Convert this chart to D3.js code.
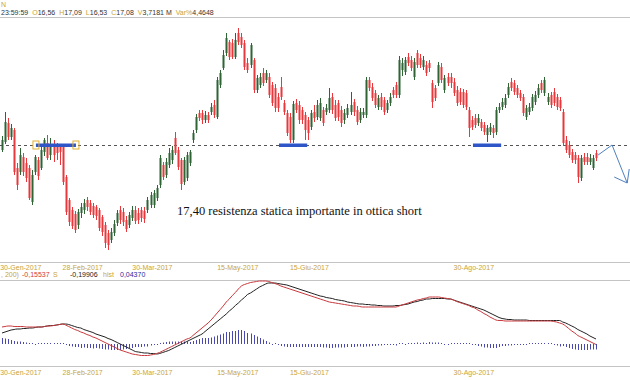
<!DOCTYPE html>
<html>
<head>
<meta charset="utf-8">
<script src="https://cdn.jsdelivr.net/npm/d3@7"></script>
<style>
  body { margin: 0; background: #fff; }
  svg { display: block; font-family: 'Liberation Sans', Arial, sans-serif; }
</style>
</head>
<body>
<svg id="chart" width="630" height="380"></svg>
<script>
// daily candles
const opens = [
  17.20, 17.52, 18.28, 17.72, 18.00, 16.48, 16.32, 16.92, 16.68, 16.48,
  15.12, 16.32, 16.80, 16.48, 17.12, 17.48, 17.00, 17.40, 17.32, 17.36,
  17.32, 16.12, 15.20, 14.80, 14.64, 14.20, 14.68, 14.80, 15.20, 15.08,
  14.96, 14.92, 14.80, 14.52, 14.20, 13.88, 13.60, 13.88, 14.28, 14.80,
  14.72, 14.40, 14.20, 14.48, 14.80, 14.68, 14.80, 14.76, 14.80, 15.00,
  15.00, 15.28, 15.80, 16.60, 16.20, 16.60, 16.80, 17.68, 17.20, 16.80,
  15.92, 16.08, 16.68, 17.60, 18.00, 18.68, 18.68, 18.40, 18.60, 18.72,
  19.00, 18.52, 19.80, 20.48, 21.08, 21.52, 21.48, 20.92, 21.88, 21.72,
  21.48, 20.68, 20.60, 20.80, 19.60, 19.80, 20.28, 20.00, 20.12, 19.80,
  19.68, 19.32, 19.72, 19.08, 18.68, 18.52, 17.60, 19.08, 19.00, 18.80,
  18.60, 18.40, 18.12, 18.72, 18.52, 18.48, 18.80, 18.72, 18.80, 19.32,
  19.00, 19.08, 18.80, 18.40, 18.60, 18.72, 19.12, 18.80, 18.40, 18.60,
  18.60, 20.00, 19.72, 19.48, 18.92, 19.32, 19.20, 18.80, 19.08, 19.60,
  19.80, 19.40, 20.40, 20.32, 20.92, 20.80, 20.12, 21.08, 20.88, 20.52,
  20.60, 20.68, 19.88, 19.68, 19.88, 20.52, 19.60, 20.12, 20.12, 19.92,
  19.60, 19.52, 19.52, 19.48, 18.80, 18.40, 18.48, 18.28, 18.32, 18.20,
  17.80, 17.92, 18.08, 17.92, 18.80, 18.92, 19.00, 19.40, 19.92, 19.88,
  19.68, 19.48, 19.32, 18.52, 18.72, 18.88, 19.12, 19.40, 19.88, 19.48,
  19.12, 19.40, 19.52, 19.32, 19.20, 18.72, 17.60, 17.40, 17.12, 17.00,
  16.88, 16.08, 16.92, 16.92, 16.72, 16.48, 17.08
];
const highs = [
  17.76, 18.72, 18.48, 18.24, 18.08, 16.68, 17.28, 17.08, 16.88, 16.60,
  16.40, 17.00, 16.92, 17.36, 17.68, 17.80, 17.68, 17.60, 17.48, 17.44,
  17.40, 16.20, 15.28, 14.92, 14.76, 14.84, 15.08, 15.24, 15.32, 15.20,
  15.08, 15.00, 14.88, 14.60, 14.32, 14.00, 14.08, 14.40, 14.80, 14.96,
  14.88, 14.56, 14.72, 14.96, 14.96, 14.88, 14.92, 14.92, 15.32, 15.52,
  15.60, 15.80, 17.00, 16.72, 16.88, 17.28, 17.36, 17.92, 17.32, 16.88,
  16.92, 17.12, 17.20, 18.00, 18.64, 18.80, 18.80, 18.76, 18.72, 19.08,
  19.20, 20.12, 20.40, 21.20, 21.88, 21.60, 21.64, 21.88, 22.08, 21.88,
  21.60, 20.88, 21.48, 20.88, 20.20, 20.28, 20.48, 20.40, 20.28, 19.92,
  19.84, 19.48, 20.12, 19.20, 18.80, 18.68, 19.16, 19.24, 19.16, 18.92,
  18.72, 18.52, 18.80, 19.00, 19.20, 19.28, 18.92, 19.04, 19.68, 19.48,
  19.20, 19.20, 18.96, 18.84, 19.04, 19.52, 19.24, 18.96, 18.88, 18.88,
  20.12, 20.12, 19.88, 19.60, 19.40, 19.48, 19.32, 19.20, 19.48, 19.72,
  19.92, 20.96, 20.88, 20.92, 21.08, 20.96, 20.88, 21.20, 21.04, 20.96,
  20.76, 20.80, 20.00, 19.80, 20.72, 20.68, 20.20, 20.28, 20.28, 20.08,
  19.76, 19.68, 19.64, 19.60, 18.92, 18.56, 18.64, 18.64, 18.44, 18.32,
  18.20, 18.28, 18.20, 18.92, 19.08, 19.28, 19.44, 19.88, 20.08, 20.00,
  19.80, 19.60, 19.44, 19.00, 19.08, 19.44, 19.56, 19.84, 20.00, 20.12,
  19.48, 19.52, 19.68, 19.44, 19.32, 18.84, 17.76, 17.56, 17.24, 17.12,
  17.00, 17.00, 17.08, 17.08, 17.04, 17.00, 17.20
];
const lows = [
  17.12, 17.44, 17.60, 17.60, 16.20, 15.60, 16.20, 16.16, 15.92, 15.20,
  15.00, 16.20, 16.00, 16.40, 16.96, 16.80, 16.80, 16.72, 16.80, 16.60,
  15.80, 14.60, 14.16, 14.04, 13.88, 14.04, 14.48, 14.64, 14.76, 14.60,
  14.48, 14.40, 13.96, 13.76, 13.28, 13.20, 13.48, 13.76, 14.16, 14.24,
  14.16, 13.92, 14.08, 14.36, 14.24, 14.24, 14.32, 14.28, 14.68, 14.88,
  14.88, 15.16, 15.68, 16.00, 16.08, 16.48, 16.64, 17.00, 16.40, 15.60,
  15.80, 15.96, 16.56, 17.48, 17.88, 18.36, 18.24, 18.28, 18.28, 18.60,
  18.48, 18.44, 19.68, 20.40, 20.96, 20.80, 20.84, 20.84, 21.40, 21.28,
  20.40, 20.28, 20.48, 19.48, 19.48, 19.68, 19.76, 19.88, 19.28, 18.96,
  18.72, 18.72, 19.20, 18.60, 17.76, 17.48, 17.48, 18.68, 18.24, 18.24,
  17.60, 17.60, 18.00, 18.32, 18.40, 18.36, 18.16, 18.60, 18.68, 18.64,
  18.36, 18.36, 18.12, 18.24, 18.48, 18.60, 18.56, 18.20, 18.28, 18.48,
  18.48, 19.56, 19.16, 18.88, 18.80, 18.80, 18.60, 18.68, 18.96, 19.28,
  19.28, 19.28, 20.16, 20.20, 20.56, 20.36, 20.00, 20.48, 20.48, 20.40,
  20.16, 20.32, 18.88, 19.16, 19.76, 19.88, 19.48, 19.76, 19.68, 19.36,
  18.96, 19.00, 18.88, 18.80, 17.72, 18.00, 18.08, 18.16, 17.96, 17.80,
  17.52, 17.80, 17.68, 17.80, 18.68, 18.80, 18.88, 19.28, 19.56, 19.40,
  19.28, 19.16, 18.56, 18.40, 18.60, 18.76, 19.00, 19.28, 19.48, 19.36,
  19.00, 18.88, 18.96, 18.80, 18.76, 17.36, 17.08, 16.88, 16.68, 16.64,
  15.88, 15.96, 16.60, 16.60, 16.60, 16.40, 16.76
];
const closes = [
  17.60, 18.32, 17.72, 18.08, 16.32, 15.80, 17.00, 16.32, 16.08, 15.28,
  16.20, 16.92, 16.16, 17.20, 17.60, 16.88, 17.40, 17.00, 17.08, 17.12,
  15.92, 14.72, 14.32, 14.16, 14.00, 14.72, 14.92, 15.08, 14.92, 14.72,
  14.60, 14.56, 14.08, 13.92, 13.48, 13.40, 13.92, 14.24, 14.68, 14.40,
  14.32, 14.04, 14.60, 14.80, 14.36, 14.40, 14.48, 14.44, 15.20, 15.40,
  15.48, 15.68, 16.88, 16.12, 16.72, 17.08, 17.20, 17.08, 16.52, 15.84,
  16.80, 17.00, 17.12, 17.88, 18.52, 18.48, 18.40, 18.60, 18.40, 18.92,
  18.60, 20.00, 20.28, 21.00, 21.68, 20.92, 20.92, 21.60, 21.52, 21.40,
  20.52, 20.40, 21.40, 19.60, 20.08, 20.12, 19.88, 20.28, 19.40, 19.08,
  18.88, 18.88, 19.32, 18.72, 17.88, 17.60, 19.04, 18.80, 18.40, 18.40,
  18.00, 17.88, 18.68, 18.48, 19.00, 19.08, 18.28, 18.88, 19.28, 18.80,
  18.48, 18.52, 18.28, 18.68, 18.88, 19.00, 18.72, 18.32, 18.72, 18.72,
  20.00, 19.68, 19.28, 19.00, 19.28, 18.92, 18.72, 19.08, 19.32, 19.40,
  19.40, 20.80, 20.68, 20.80, 20.68, 20.48, 20.72, 20.60, 20.60, 20.80,
  20.28, 20.48, 19.12, 19.28, 20.60, 20.00, 20.08, 19.88, 19.88, 19.48,
  19.08, 19.12, 19.00, 18.92, 18.08, 18.12, 18.20, 18.48, 18.08, 17.92,
  18.08, 18.12, 17.88, 18.80, 18.92, 19.12, 19.28, 19.72, 19.68, 19.52,
  19.40, 19.28, 18.68, 18.88, 18.92, 19.32, 19.40, 19.68, 19.60, 20.00,
  19.32, 19.00, 19.08, 18.92, 18.88, 17.48, 17.20, 17.00, 16.80, 16.80,
  16.12, 16.88, 16.72, 16.72, 16.88, 16.88, 16.88
];

// MACD (red) and signal (black), one value per candle
const macdLine = [
  0.12, 0.13, 0.14, 0.14, 0.13, 0.13, 0.13, 0.13, 0.12, 0.12,
  0.12, 0.12, 0.12, 0.12, 0.13, 0.14, 0.14, 0.15, 0.16, 0.17,
  0.18, 0.16, 0.13, 0.10, 0.07, 0.05, 0.02, 0.00, -0.03, -0.05,
  -0.08, -0.10, -0.13, -0.16, -0.19, -0.22, -0.25, -0.28, -0.31, -0.34,
  -0.36, -0.38, -0.40, -0.42, -0.43, -0.44, -0.45, -0.45, -0.45, -0.44,
  -0.43, -0.41, -0.39, -0.36, -0.33, -0.30, -0.27, -0.24, -0.21, -0.18,
  -0.15, -0.12, -0.10, -0.05, 0.00, 0.05, 0.10, 0.15, 0.20, 0.26,
  0.33, 0.40, 0.47, 0.54, 0.62, 0.68, 0.75, 0.81, 0.88, 0.94,
  0.97, 0.99, 1.01, 1.02, 1.03, 1.04, 1.04, 1.04, 1.03, 1.01,
  0.99, 0.97, 0.94, 0.92, 0.90, 0.88, 0.86, 0.84, 0.82, 0.80,
  0.78, 0.76, 0.74, 0.72, 0.70, 0.68, 0.66, 0.64, 0.62, 0.61,
  0.60, 0.59, 0.58, 0.57, 0.56, 0.55, 0.54, 0.54, 0.53, 0.52,
  0.52, 0.52, 0.52, 0.52, 0.52, 0.52, 0.52, 0.52, 0.52, 0.52,
  0.52, 0.54, 0.56, 0.58, 0.60, 0.62, 0.64, 0.66, 0.67, 0.69,
  0.70, 0.72, 0.72, 0.72, 0.72, 0.71, 0.70, 0.69, 0.68, 0.66,
  0.63, 0.61, 0.59, 0.57, 0.55, 0.52, 0.50, 0.46, 0.43, 0.39,
  0.36, 0.32, 0.29, 0.26, 0.25, 0.25, 0.24, 0.24, 0.24, 0.24,
  0.24, 0.24, 0.24, 0.24, 0.24, 0.24, 0.24, 0.24, 0.24, 0.24,
  0.24, 0.24, 0.23, 0.22, 0.20, 0.18, 0.14, 0.09, 0.04, 0.00,
  -0.05, -0.08, -0.11, -0.14, -0.17, -0.20, -0.23
];
const signalLine = [
  0.00, 0.02, 0.04, 0.06, 0.07, 0.08, 0.08, 0.09, 0.09, 0.10,
  0.10, 0.11, 0.12, 0.12, 0.13, 0.14, 0.15, 0.15, 0.16, 0.17,
  0.18, 0.18, 0.17, 0.15, 0.13, 0.11, 0.10, 0.07, 0.05, 0.03,
  0.01, -0.02, -0.04, -0.06, -0.08, -0.11, -0.13, -0.16, -0.19, -0.22,
  -0.25, -0.28, -0.31, -0.34, -0.37, -0.38, -0.39, -0.40, -0.40, -0.41,
  -0.41, -0.42, -0.41, -0.39, -0.37, -0.35, -0.32, -0.29, -0.26, -0.23,
  -0.20, -0.17, -0.14, -0.11, -0.08, -0.05, -0.02, 0.03, 0.08, 0.13,
  0.18, 0.23, 0.28, 0.33, 0.38, 0.44, 0.49, 0.55, 0.60, 0.66,
  0.71, 0.77, 0.80, 0.84, 0.88, 0.92, 0.95, 0.98, 1.00, 1.00,
  1.00, 0.99, 0.98, 0.97, 0.96, 0.94, 0.92, 0.90, 0.88, 0.86,
  0.84, 0.82, 0.80, 0.78, 0.76, 0.74, 0.73, 0.71, 0.70, 0.69,
  0.67, 0.66, 0.65, 0.64, 0.62, 0.61, 0.60, 0.59, 0.58, 0.58,
  0.57, 0.57, 0.56, 0.56, 0.55, 0.55, 0.54, 0.54, 0.54, 0.54,
  0.55, 0.55, 0.56, 0.57, 0.58, 0.60, 0.62, 0.63, 0.65, 0.66,
  0.68, 0.68, 0.69, 0.69, 0.69, 0.69, 0.69, 0.68, 0.68, 0.66,
  0.64, 0.62, 0.60, 0.58, 0.56, 0.54, 0.52, 0.50, 0.48, 0.46,
  0.43, 0.40, 0.37, 0.34, 0.31, 0.29, 0.28, 0.27, 0.27, 0.26,
  0.26, 0.26, 0.26, 0.26, 0.25, 0.25, 0.25, 0.25, 0.25, 0.25,
  0.25, 0.25, 0.25, 0.25, 0.25, 0.22, 0.20, 0.17, 0.14, 0.11,
  0.07, 0.04, 0.01, -0.02, -0.06, -0.09, -0.12
];

const tickIndex = [-0.6, 20, 43, 71, 95, 149];
const tickLabels = ['30-Gen-2017', '28-Feb-2017', '30-Mar-2017', '15-May-2017', '15-Giu-2017', '30-Ago-2017'];

const headLabels = ['', 'O', 'H', 'L', 'C', 'V', 'Var%'];
const headValues = ['23:59:59', '16,56', '17,09', '16,53', '17,08', '3,7181 M', '4,4648'];
const macdLegendLabels = ['', 'S', 'hist'];
const macdLegendValues = ['-0,15537', '-0,19906', '0,04370'];

const resistance = 17.40;
const supportFrom = [11.2, 91.4, 155.4];
const supportTo = [24.4, 100.7, 164.7];
const arrowIdx = [196.7, 201.3, 206.3];
const arrowPrice = [17.0, 17.4, 15.88];
const note = '17,40 resistenza statica importante in ottica short';

const UP = '#2f6534', DOWN = '#e8383c', GOLD = '#c9a43a', GRID = '#c4c4c4';

const svg = d3.select('#chart');
const x = d3.scaleLinear().domain([0, opens.length - 1]).range([2, 596]);
const y = d3.scaleLinear().domain([13, 22.4]).range([255, 20]);
const yMacd = d3.scaleLinear().domain([-0.5, 1.1]).range([358, 278]);
const yHist = d3.scaleLinear().domain([-0.3, 0.3]).range([359, 329]);

// separators
[17, 262, 280, 366].forEach(v => {
  svg.append('line').attr('x1', 0).attr('x2', 630).attr('y1', v + 0.5).attr('y2', v + 0.5)
    .attr('stroke', GRID).attr('stroke-width', 1);
});

// header
svg.append('text').attr('x', 1).attr('y', 7).attr('font-size', 7).attr('fill', GOLD).text('N');
const head = svg.append('text').attr('x', 1).attr('y', 15).attr('font-size', 7);
headLabels.forEach((l, i) => {
  head.append('tspan').attr('dx', i ? 4 : 0).attr('fill', GOLD).text(l);
  head.append('tspan').attr('fill', '#333').text(headValues[i]);
});

// resistance line
svg.append('line')
  .attr('x1', 0).attr('x2', 630)
  .attr('y1', Math.round(y(resistance)) + 0.5).attr('y2', Math.round(y(resistance)) + 0.5)
  .attr('stroke', '#555').attr('stroke-dasharray', '3,3');

// candles
const idx = d3.range(opens.length);
const cg = svg.append('g');
cg.selectAll('line.wick').data(idx).join('line')
  .attr('class', 'wick')
  .attr('x1', i => Math.round(x(i)) + 0.5).attr('x2', i => Math.round(x(i)) + 0.5)
  .attr('y1', i => y(highs[i])).attr('y2', i => y(lows[i]))
  .attr('stroke', i => closes[i] >= opens[i] ? UP : DOWN);
cg.selectAll('rect.body').data(idx).join('rect')
  .attr('class', 'body')
  .attr('x', i => Math.round(x(i)) - 0.5).attr('width', 2)
  .attr('y', i => y(Math.max(opens[i], closes[i])))
  .attr('height', i => Math.max(1, Math.abs(y(opens[i]) - y(closes[i]))))
  .attr('fill', i => closes[i] >= opens[i] ? UP : DOWN);

// support markers
supportFrom.forEach((f, k) => {
  svg.append('rect')
    .attr('x', x(f)).attr('width', x(supportTo[k]) - x(f))
    .attr('y', y(resistance) - 1.5).attr('height', 3.5)
    .attr('fill', '#2f56c8');
});
[supportFrom[0], supportTo[0]].forEach(v => {
  svg.append('rect')
    .attr('x', x(v) - 3).attr('y', y(resistance) - 4).attr('width', 6).attr('height', 8)
    .attr('fill', 'none').attr('stroke', '#e0b030').attr('stroke-width', 1);
});

// arrow
const arrowPts = arrowIdx.map((v, k) => [x(v), y(arrowPrice[k])]);
svg.append('path').attr('d', d3.line()(arrowPts))
  .attr('fill', 'none').attr('stroke', '#4f7fc0').attr('stroke-width', 1);
const tip = arrowPts[2];
svg.append('path').attr('d', d3.line()([[tip[0] - 13, tip[1] - 6], tip, [tip[0] + 2, tip[1] - 14]]))
  .attr('fill', 'none').attr('stroke', '#4f7fc0').attr('stroke-width', 1);

// note
svg.append('text').attr('x', 177).attr('y', 215)
  .attr('font-family', "'Liberation Serif', 'Times New Roman', serif")
  .attr('font-size', 12.5).attr('fill', '#111').text(note);

// date labels (both panels)
[270, 375].forEach(yy => {
  svg.append('g').selectAll('text').data(tickIndex).join('text')
    .attr('x', d => x(d)).attr('y', yy)
    .attr('font-size', 7).attr('fill', GOLD)
    .text((d, i) => tickLabels[i]);
});

// macd legend
svg.append('text').attr('x', 1).attr('y', 277).attr('font-size', 7).attr('fill', GOLD).text(', 200)');
const legColors = ['#d03a3a', '#222', '#2a2aa0'];
const legValueX = [22, 70, 120];
const legLabelX = [0, 53, 103];
macdLegendLabels.forEach((l, i) => {
  if (l) svg.append('text').attr('x', legLabelX[i]).attr('y', 277).attr('font-size', 7).attr('fill', GOLD).text(l);
  svg.append('text').attr('x', legValueX[i]).attr('y', 277).attr('font-size', 7)
    .attr('fill', legColors[i]).text(macdLegendValues[i]);
});

// histogram
svg.append('g').selectAll('line').data(idx).join('line')
  .attr('x1', i => Math.round(x(i)) + 0.5).attr('x2', i => Math.round(x(i)) + 0.5)
  .attr('y1', yHist(0))
  .attr('y2', i => {
    const h = yHist(macdLine[i] - signalLine[i]) - yHist(0);
    return yHist(0) + (Math.abs(h) < 1 ? (h < 0 ? 1 : -1) : h);
  })
  .attr('stroke', '#4848b0').attr('stroke-width', 1);

// macd lines
const lineGen = arr => d3.line().x((d, i) => x(i)).y(d => yMacd(d)).curve(d3.curveMonotoneX)(arr);
svg.append('path').attr('d', lineGen(signalLine)).attr('fill', 'none').attr('stroke', '#222').attr('stroke-width', 1);
svg.append('path').attr('d', lineGen(macdLine)).attr('fill', 'none').attr('stroke', '#c8383c').attr('stroke-width', 1);
</script>
</body>
</html>
